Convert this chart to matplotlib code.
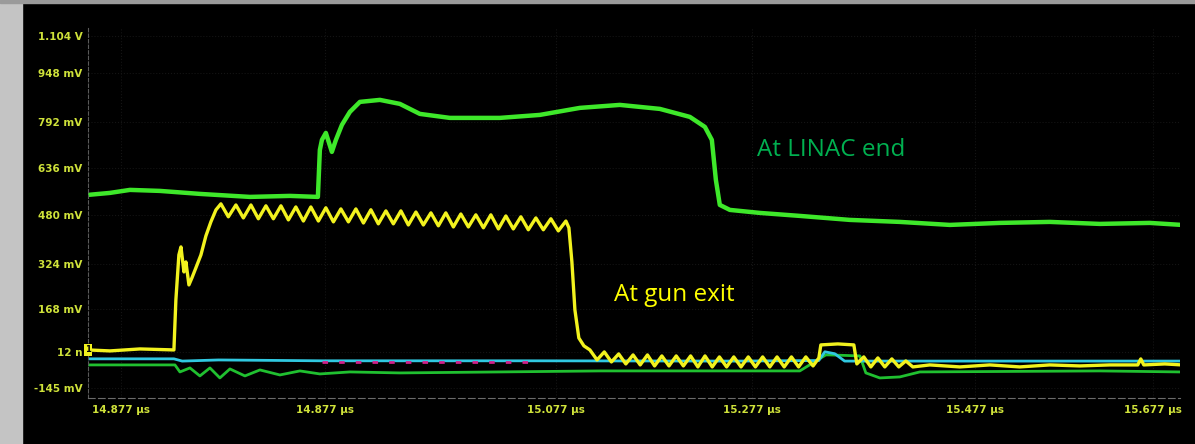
import matplotlib
matplotlib.use("Agg")
import matplotlib.pyplot as plt
from matplotlib.patches import Rectangle

# time in ns after the first division (14.677 us), voltage in mV
ytick_vals = [1104, 973, 799, 636, 469, 295, 135, -17.5, -145]
ytick_labels = ["1.104 V", "948 mV", "792 mV", "636 mV", "480 mV", "324 mV", "168 mV", "12 n", "-145 mV"]
xtick_vals = [5.8, 202.9, 426.0, 615.3, 830.8, 1002.7]
xtick_labels = ["14.877 \u00b5s", "14.877 \u00b5s", "15.077 \u00b5s", "15.277 \u00b5s", "15.477 \u00b5s", "15.677 \u00b5s"]

# LINAC end (green)
linac_t = [-26.1, -4.8, 14.5, 43.5, 82.1, 130.4, 169.1, 196.1, 198.0, 200.0, 203.8, 209.6, 213.5,
           219.3, 227.0, 236.7, 256.0, 275.3, 294.6, 323.6, 371.9, 410.6, 449.2, 487.8, 526.5,
           555.5, 570.0, 576.7, 580.6, 584.4, 594.1, 623.1, 661.7, 710.0, 758.3, 806.6, 854.9,
           903.2, 951.5, 999.8, 1030.7]
linac_v = [539.7, 546.8, 557.5, 553.9, 543.3, 532.6, 536.2, 532.6, 699.4, 734.9, 759.7, 692.3, 734.9,
           788.1, 834.3, 869.8, 876.9, 862.7, 827.2, 813.0, 813.0, 823.6, 848.5, 859.1, 844.9,
           816.5, 781.0, 734.9, 592.9, 504.2, 486.5, 475.8, 465.2, 451.0, 443.9, 433.2, 440.3,
           443.9, 436.8, 440.3, 433.2]

# gun exit (yellow)
gun_t = [-26.1, -4.8, 24.2, 57.0, 58.9, 61.8, 63.8, 66.7, 68.6, 71.5, 74.4, 78.2, 83.1, 87.9, 92.7, 97.6,
         102.4, 109.6, 116.9, 124.1, 131.4, 138.6, 145.9, 153.1, 160.4, 167.6, 174.8, 182.1, 189.3,
         196.6, 203.8, 211.1, 218.3, 225.6, 232.8, 240.1, 247.3, 254.5, 261.8, 269.0, 276.3, 283.5,
         290.8, 298.0, 305.3, 312.5, 319.7, 327.0, 334.2, 341.5, 348.7, 356.0, 363.2, 370.5, 377.7,
         384.9, 392.2, 399.4, 406.7, 413.9, 421.2, 428.4, 435.7,
         438.6, 441.5, 444.4, 448.2, 453.1,
         458.9, 465.8, 472.8, 479.7, 486.7, 493.6, 500.6, 507.5, 514.5, 521.4, 528.4, 535.3, 542.3,
         549.2, 556.2, 563.2, 570.1, 577.1, 584.0, 591.0, 597.9, 604.9, 611.9, 618.8, 625.8, 632.7,
         639.7, 646.6, 653.6, 660.5, 667.5, 674.5,
         680.1, 682.0, 698.4, 713.9, 716.8,
         723.5, 730.3, 737.1, 743.8, 750.6, 757.3, 764.1, 770.9,
         787.3, 816.3, 845.3, 874.2, 903.2, 932.2, 961.2, 988.2, 991.1, 994.0, 1014.3, 1030.7]
gun_v = [-10.4, -13.9, -6.9, -10.4, 167.1, 326.8, 355.2, 266.4, 301.9, 220.3, 245.1, 280.6, 326.8, 394.2, 443.9, 486.5,
         508, 462, 504, 458, 504, 455, 501, 455, 501, 451, 497, 447, 497,
         447, 494, 444, 490, 444, 490, 440, 487, 437, 483, 437, 483, 433,
         479, 433, 476, 430, 476, 426, 472, 426, 469, 423, 469, 419, 465,
         419, 462, 416, 458, 416, 455, 412, 447,
         423, 302, 132, 32, 4,
         -10.4, -45.9, -17.5, -53.0, -24.6, -60.1, -28.1, -63.6, -28.1, -67.2, -31.7, -67.2, -31.7,
         -67.2, -31.7, -70.7, -31.7, -70.7, -35.2, -70.7, -35.2, -70.7, -35.2, -70.7, -35.2, -70.7,
         -35.2, -70.7, -35.2, -70.7, -35.2, -67.2,
         -38.8, 7.4, 10.9, 7.4, -60.1,
         -35.2, -70.7, -38.8, -70.7, -42.3, -70.7, -49.4, -70.7,
         -63.6, -70.7, -63.6, -70.7, -63.6, -67.2, -63.6, -63.6, -42.3, -63.6, -60.1, -63.6]

# other channels near the floor
cyan_t = [-26.1, 57.0, 65.0, 100.0, 200.0, 400.0, 600.0, 680.0, 685.9, 695.5, 705.0, 1029.0]
cyan_v = [-42.0, -42.0, -50.0, -46.0, -49.0, -49.0, -50.0, -48.0, -17.0, -24.0, -50.0, -50.0]
magenta_t = [200.0, 400.0]
magenta_v = [-55.0, -55.0]
floor_t = [-26.1, 58.0, 62.8, 72.5, 82.1, 91.8, 101.4, 111.1, 125.6, 140.1, 159.4, 178.7, 198.0, 227.0,
           275.3, 371.9, 468.5, 565.1, 661.7, 686.8, 690.7, 719.7, 725.5, 739.0, 758.3, 777.6, 951.5, 1028.8]
floor_v = [-63.6, -63.6, -88.5, -74.3, -102.7, -74.3, -109.8, -77.8, -102.7, -81.4, -99.2, -84.9, -95.6,
           -88.5, -92.0, -88.5, -84.9, -84.9, -84.9, -28.1, -28.1, -31.7, -92.0, -109.8, -106.2, -88.5,
           -84.9, -88.5]

W, H = 1195, 444
fig = plt.figure(figsize=(W / 100, H / 100), dpi=100)
fig.patch.set_facecolor("black")
# screenshot frame
fig.patches.append(Rectangle((0, 0), 22 / W, 1, transform=fig.transFigure, color="#c4c4c4", zorder=-1))
fig.patches.append(Rectangle((0, 1 - 3 / H), 1, 3 / H, transform=fig.transFigure, color="#9a9a9a", zorder=-1))

ax = fig.add_axes([88 / W, 1 - 398 / H, (1180 - 88) / W, (398 - 28) / H])
ax.set_facecolor("black")
ax.set_xlim(-26, 1029)
ax.set_ylim(-181, 1132)

ax.plot(floor_t, floor_v, color="#20c030", lw=2)
ax.plot(cyan_t, cyan_v, color="#30c8e0", lw=2)
ax.plot(magenta_t, magenta_v, color="#d0208a", lw=2, ls=(0, (2, 4)))
ax.plot(linac_t, linac_v, color="#3ee82a", lw=3.2)
ax.plot(gun_t, gun_v, color="#f2f21e", lw=2.4)

ax.text(620.2, 699.4, "At LINAC end", color="#00b050", fontsize=17.5, family=["Open Sans", "DejaVu Sans"],
        ha="left", va="center")
ax.text(482.0, 184.8, "At gun exit", color="#ffff00", fontsize=17.5, family=["Open Sans", "DejaVu Sans"],
        ha="left", va="center")

ax.set_yticks(ytick_vals)
ax.set_yticklabels(ytick_labels)
ax.set_xticks(xtick_vals)
ax.set_xticklabels(xtick_labels)
lab_color = "#cfe23a"
ax.tick_params(axis="both", length=0, colors=lab_color, labelsize=7.5)
ax.tick_params(axis="y", pad=4)
ax.tick_params(axis="x", pad=5)
for lab in ax.get_xticklabels() + ax.get_yticklabels():
    lab.set_fontweight("bold")
    lab.set_family(["Liberation Sans Narrow", "DejaVu Sans"])

for side in ["top", "right"]:
    ax.spines[side].set_visible(False)
ax.spines["left"].set_color("#5a5a5a")
ax.spines["left"].set_linestyle((0, (3, 2)))
ax.spines["bottom"].set_color("#6a6a6a")
ax.spines["bottom"].set_linestyle((0, (6, 3)))
ax.grid(True, color="#141414", lw=0.8, ls=":")

# channel 1 marker
ax.text(-26, -10.4, "1", color="black", fontsize=6, fontweight="bold", ha="center", va="center",
        bbox=dict(boxstyle="square,pad=0.15", fc="#f2f21e", ec="none"), clip_on=False)

fig.savefig("out.png", dpi=100, facecolor=fig.get_facecolor())
